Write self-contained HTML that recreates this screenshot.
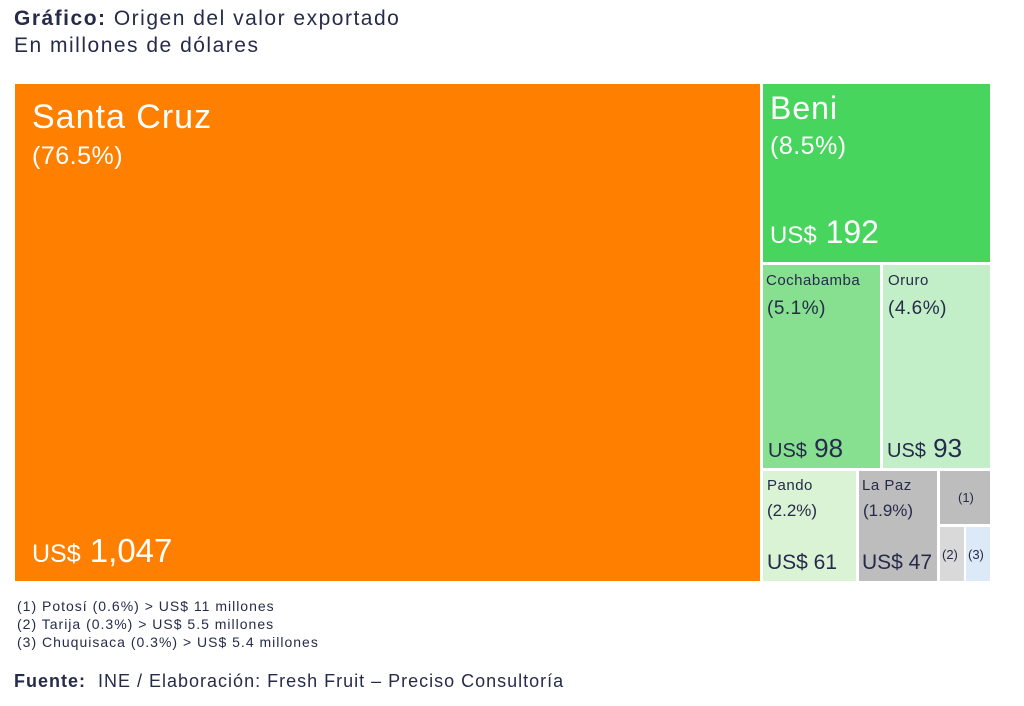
<!DOCTYPE html>
<html><head><meta charset="utf-8"><style>
body{margin:0;width:1024px;height:706px;background:#fff;font-family:"Liberation Sans",sans-serif;color:#262b4a;position:relative;overflow:hidden}
.b{position:absolute;box-sizing:border-box}
.t{position:absolute;white-space:nowrap}
</style></head><body>
<div class="t" style="left:14px;top:7px;font-size:21px;letter-spacing:1.5px"><b>Gráfico:</b> Origen del valor exportado</div>
<div class="t" style="left:14px;top:34px;font-size:21px;letter-spacing:1.5px">En millones de dólares</div>

<div class="b" style="left:15px;top:84px;width:745px;height:497px;background:#FF8000;color:#fff">
<div class="t" style="left:17px;top:14px;font-size:34px;letter-spacing:1px">Santa Cruz</div>
<div class="t" style="left:17px;top:58px;font-size:25px;letter-spacing:0.5px">(76.5%)</div>
<div class="t" style="left:17px;top:448px;font-size:33px"><span style="font-size:25px">US$</span> 1,047</div>
</div>
<div class="b" style="left:763px;top:84px;width:227px;height:178px;background:#48D55E;color:#fff">
<div class="t" style="left:7px;top:6px;font-size:32px;letter-spacing:1px">Beni</div>
<div class="t" style="left:7px;top:48px;font-size:25px;letter-spacing:0.5px">(8.5%)</div>
<div class="t" style="left:7px;top:130px;font-size:32px"><span style="font-size:24px">US$</span> 192</div>
</div>
<div class="b" style="left:763px;top:265px;width:117px;height:203px;background:#86E08F">
<div class="t" style="left:3px;top:7px;font-size:15px;letter-spacing:0.5px">Cochabamba</div>
<div class="t" style="left:4px;top:33px;font-size:19px;letter-spacing:0.5px">(5.1%)</div>
<div class="t" style="left:5px;top:168px;font-size:26px"><span style="font-size:20px">US$</span> 98</div>
</div>
<div class="b" style="left:883px;top:265px;width:107px;height:203px;background:#C3EFC8">
<div class="t" style="left:5px;top:7px;font-size:15px;letter-spacing:0.5px">Oruro</div>
<div class="t" style="left:5px;top:33px;font-size:19px;letter-spacing:0.5px">(4.6%)</div>
<div class="t" style="left:4px;top:168px;font-size:26px"><span style="font-size:20px">US$</span> 93</div>
</div>
<div class="b" style="left:763px;top:471px;width:93px;height:110px;background:#DAF3D4">
<div class="t" style="left:4px;top:6px;font-size:15px;letter-spacing:0.5px">Pando</div>
<div class="t" style="left:4px;top:30px;font-size:17px">(2.2%)</div>
<div class="t" style="left:4px;top:80px;font-size:21px">US$ 61</div>
</div>
<div class="b" style="left:859px;top:471px;width:78px;height:110px;background:#BDBDBD">
<div class="t" style="left:3px;top:6px;font-size:15px;letter-spacing:0.5px">La Paz</div>
<div class="t" style="left:4px;top:30px;font-size:17px">(1.9%)</div>
<div class="t" style="left:3px;top:80px;font-size:21px">US$ 47</div>
</div>
<div class="b" style="left:940px;top:471px;width:50px;height:53px;background:#BDBDBD">
<div class="t" style="left:18px;top:19px;font-size:13px">(1)</div>
</div>
<div class="b" style="left:940px;top:527px;width:24px;height:54px;background:#D9D9D9">
<div class="t" style="left:2px;top:20px;font-size:13px">(2)</div>
</div>
<div class="b" style="left:966px;top:527px;width:24px;height:54px;background:#DCE9F7">
<div class="t" style="left:2px;top:20px;font-size:13px">(3)</div>
</div>

<div class="t" style="left:17px;top:597px;font-size:14px;line-height:18px;letter-spacing:1px">(1) Potosí (0.6%) &gt; US$ 11 millones<br>(2) Tarija (0.3%) &gt; US$ 5.5 millones<br>(3) Chuquisaca (0.3%) &gt; US$ 5.4 millones</div>
<div class="t" style="left:14px;top:671px;font-size:18px;letter-spacing:1px"><b>Fuente:</b>&nbsp; INE / Elaboración: Fresh Fruit – Preciso Consultoría</div>
</body></html>
